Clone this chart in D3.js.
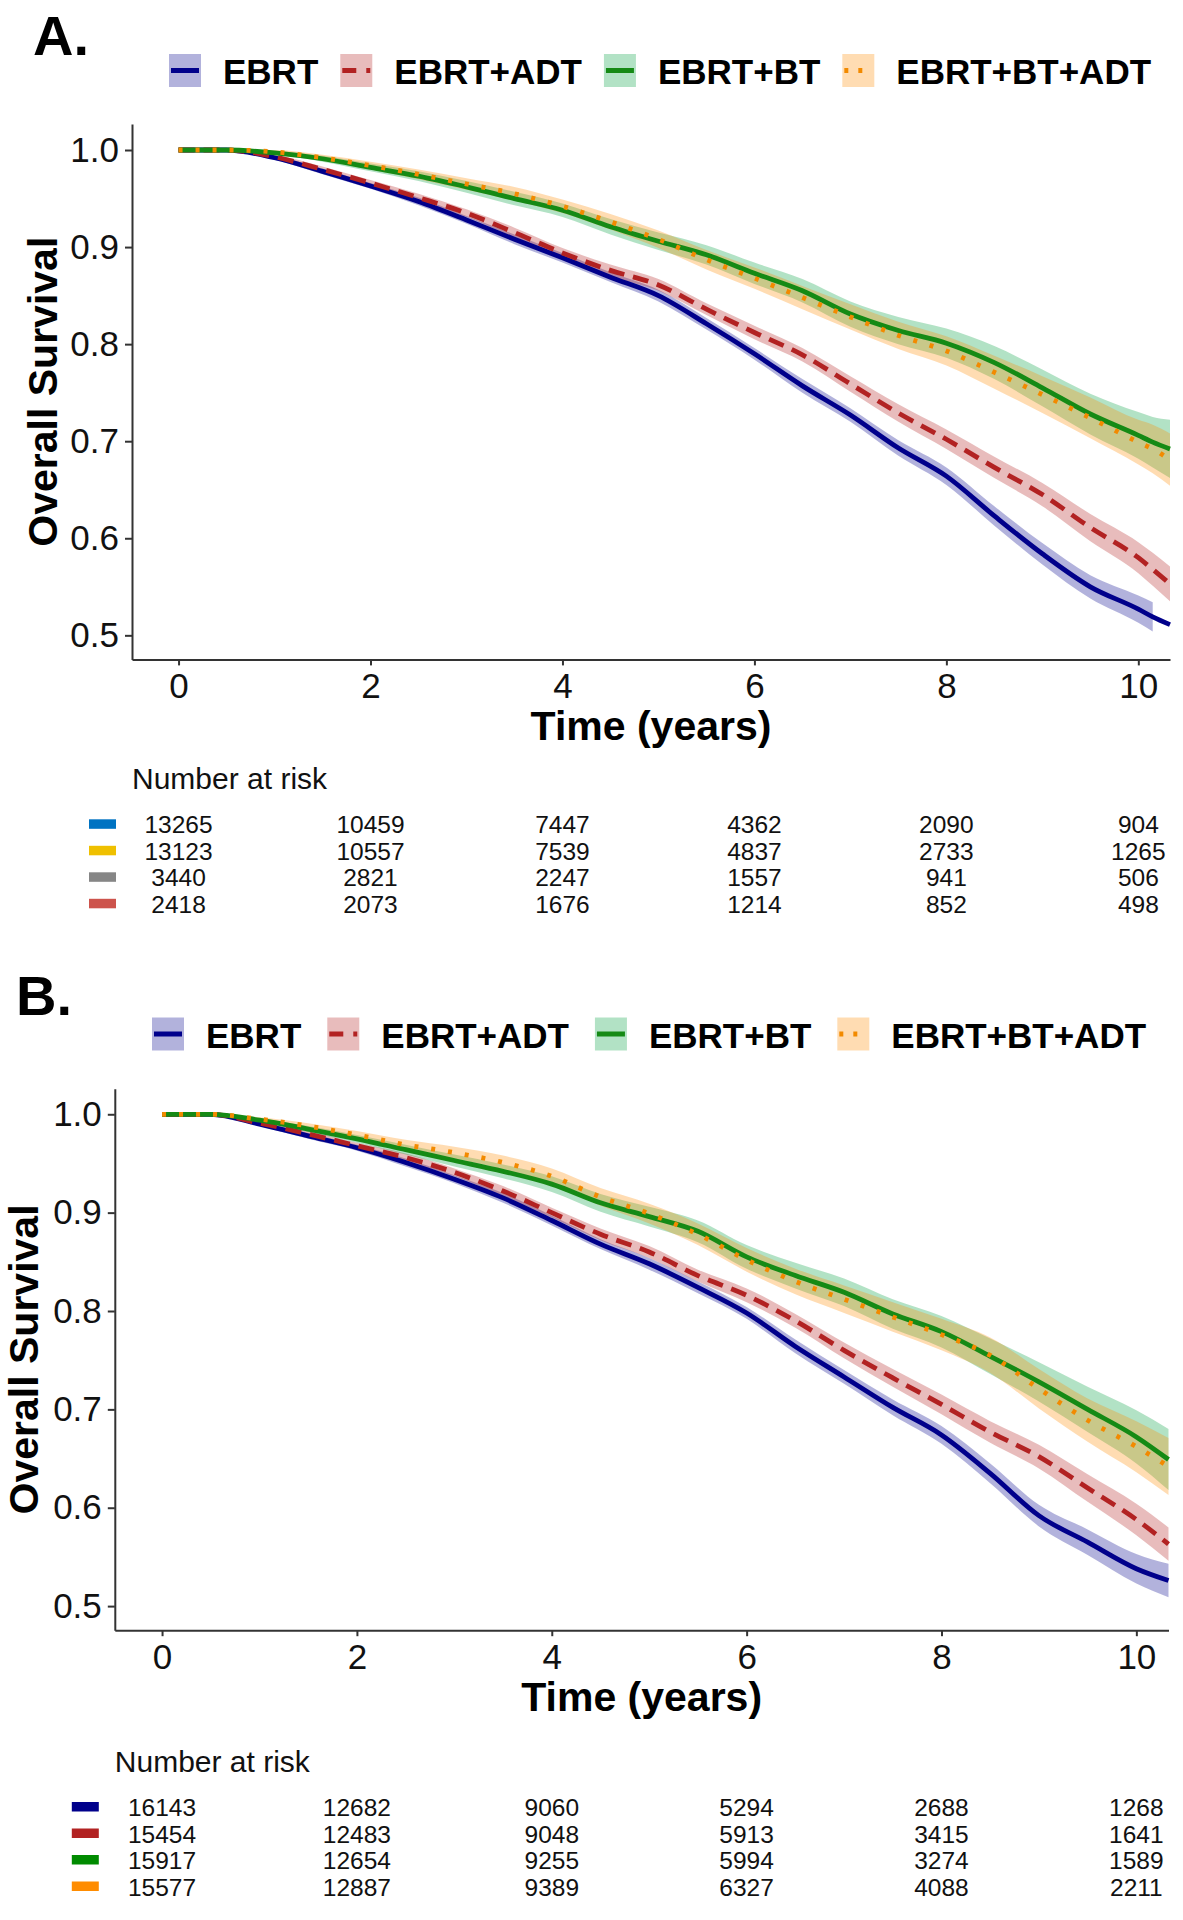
<!DOCTYPE html>
<html><head><meta charset="utf-8">
<script src="https://cdn.jsdelivr.net/npm/d3@7"></script>
<style>
body{margin:0;background:#fff}
svg{display:block}
text{font-family:"Liberation Sans",Arial,sans-serif}
</style>
</head><body>
<svg id="chart" width="1183" height="1920"></svg>
<script>
// ---------- data ----------
const groups = ["EBRT", "EBRT+ADT", "EBRT+BT", "EBRT+BT+ADT"];
const xTicks = [0, 2, 4, 6, 8, 10];
const yTicks = [0.5, 0.6, 0.7, 0.8, 0.9, 1.0];
const riskTimes = [0, 2, 4, 6, 8, 10];

// Panel A
const timesA = [0,0.5,1,1.5,2,2.5,3,3.5,4,4.5,5,5.5,6,6.5,7,7.5,8,8.5,9,9.5,10,10.15,10.33];
const survA_EBRT      = [1,1,0.992,0.978,0.963,0.947,0.928,0.908,0.889,0.869,0.850,0.821,0.790,0.757,0.727,0.693,0.664,0.623,0.584,0.550,0.527,0.519,0.511];
const survA_EBRT_ADT  = [1,1,0.993,0.980,0.966,0.951,0.935,0.915,0.894,0.876,0.861,0.836,0.812,0.789,0.759,0.729,0.702,0.673,0.645,0.611,0.580,0.568,0.553];
const survA_EBRT_BT   = [1,1,0.997,0.991,0.982,0.973,0.962,0.950,0.938,0.921,0.906,0.892,0.873,0.855,0.831,0.814,0.801,0.781,0.755,0.728,0.706,0.699,0.692];
const survA_EBRT_BT_ADT = [1,1,0.998,0.992,0.984,0.975,0.965,0.955,0.942,0.926,0.908,0.887,0.868,0.848,0.828,0.809,0.793,0.771,0.748,0.724,0.699,0.692,0.681];
const ciA_EBRT      = [0,0,0.002,0.003,0.003,0.004,0.004,0.005,0.005,0.005,0.006,0.006,0.006,0.007,0.007,0.008,0.009,0.010,0.011,0.012,0.014,0.015,null];
const ciA_EBRT_ADT  = [0,0,0.002,0.003,0.003,0.004,0.004,0.005,0.005,0.006,0.006,0.006,0.007,0.007,0.008,0.009,0.010,0.011,0.012,0.014,0.016,0.017,0.018];
const ciA_EBRT_BT   = [0,0,0.002,0.003,0.004,0.005,0.006,0.007,0.007,0.008,0.009,0.010,0.011,0.012,0.013,0.014,0.015,0.017,0.019,0.021,0.024,0.026,0.030];
const ciA_EBRT_BT_ADT = [0,0,0.002,0.003,0.004,0.005,0.006,0.007,0.007,0.008,0.009,0.010,0.011,0.012,0.013,0.014,0.015,0.017,0.019,0.021,0.023,0.025,0.027];
const riskA_EBRT      = [13265, 10459, 7447, 4362, 2090, 904];
const riskA_EBRT_ADT  = [13123, 10557, 7539, 4837, 2733, 1265];
const riskA_EBRT_BT   = [3440, 2821, 2247, 1557, 941, 506];
const riskA_EBRT_BT_ADT = [2418, 2073, 1676, 1214, 852, 498];

// Panel B
const timesB = [0,0.5,1,1.5,2,2.5,3,3.5,4,4.5,5,5.5,6,6.5,7,7.5,8,8.5,9,9.5,10,10.33];
const survB_EBRT      = [1,1,0.990,0.978,0.966,0.951,0.934,0.915,0.892,0.868,0.848,0.824,0.798,0.764,0.733,0.702,0.674,0.635,0.592,0.565,0.538,0.526];
const survB_EBRT_ADT  = [1,1,0.991,0.980,0.968,0.956,0.941,0.922,0.900,0.878,0.860,0.836,0.816,0.790,0.760,0.732,0.705,0.677,0.652,0.620,0.588,0.563];
const survB_EBRT_BT   = [1,1,0.994,0.985,0.975,0.964,0.953,0.942,0.929,0.910,0.896,0.881,0.855,0.836,0.819,0.797,0.779,0.754,0.728,0.700,0.672,0.649];
const survB_EBRT_BT_ADT = [1,1,0.995,0.988,0.979,0.969,0.961,0.951,0.937,0.916,0.899,0.878,0.852,0.830,0.812,0.794,0.776,0.755,0.721,0.689,0.662,0.642];
const ciB_EBRT      = [0,0,0.002,0.003,0.003,0.004,0.004,0.005,0.005,0.005,0.006,0.006,0.006,0.007,0.007,0.008,0.009,0.010,0.011,0.013,0.015,0.017];
const ciB_EBRT_ADT  = [0,0,0.002,0.003,0.003,0.004,0.004,0.005,0.005,0.006,0.006,0.006,0.007,0.007,0.008,0.009,0.010,0.011,0.012,0.014,0.016,0.017];
const ciB_EBRT_BT   = [0,0,0.002,0.003,0.004,0.005,0.006,0.007,0.008,0.009,0.010,0.011,0.012,0.013,0.014,0.015,0.016,0.018,0.020,0.023,0.027,0.031];
const ciB_EBRT_BT_ADT = [0,0,0.002,0.003,0.004,0.005,0.006,0.007,0.008,0.009,0.010,0.011,0.012,0.013,0.014,0.015,0.016,0.018,0.020,0.022,0.026,0.029];
const riskB_EBRT      = [16143, 12682, 9060, 5294, 2688, 1268];
const riskB_EBRT_ADT  = [15454, 12483, 9048, 5913, 3415, 1641];
const riskB_EBRT_BT   = [15917, 12654, 9255, 5994, 3274, 1589];
const riskB_EBRT_BT_ADT = [15577, 12887, 9389, 6327, 4088, 2211];

// ---------- styles ----------
const lineColors = ["#00008B", "#B22222", "#158A15", "#F28A00"];
const bandColors = ["#00008B", "#B22222", "#00A040", "#FF8C00"];
const dashes = [null, "16 9", null, "4 13"];
const riskKeyColorsA = ["#0073C2", "#EFC000", "#868686", "#CD534C"];
const riskKeyColorsB = ["#00008B", "#B22222", "#008B00", "#FF8C00"];

const svg = d3.select("#chart");

function drawPanel(cfg) {
  const g = svg.append("g");
  const x = d3.scaleLinear().domain([-0.485, 10.33]).range([cfg.left, cfg.right]);
  const y = d3.scaleLinear().domain(cfg.yDomain).range([cfg.bottom, cfg.top]);

  // panel letter
  g.append("text").attr("x", cfg.letterX).attr("y", cfg.letterY)
    .attr("font-size", 56).attr("font-weight", 700).attr("fill", "#000").text(cfg.letter);

  // legend
  let lx = cfg.legendX;
  groups.forEach((name, i) => {
    const lg = g.append("g");
    lg.append("rect").attr("x", lx).attr("y", cfg.legendY - 16.5).attr("width", 32).attr("height", 33)
      .attr("fill", bandColors[i]).attr("fill-opacity", 0.3);
    lg.append("line").attr("x1", lx + 2).attr("x2", lx + 30)
      .attr("y1", cfg.legendY).attr("y2", cfg.legendY)
      .attr("stroke", lineColors[i]).attr("stroke-width", 5)
      .attr("stroke-dasharray", i === 1 ? "14 10" : (i === 3 ? "4 10" : null));
    const t = lg.append("text").attr("x", lx + 54).attr("y", cfg.legendY + 13.5)
      .attr("font-size", 35).attr("font-weight", 700).attr("fill", "#000").text(name);
    lx += 54 + t.node().getComputedTextLength() + cfg.legendGap;
  });

  // bands
  cfg.series.forEach((s, i) => {
    const pts = cfg.times.map((t, k) => ({t, v: s.surv[k], h: s.ci[k]}));
    const area = d3.area()
      .defined(d => d.h !== null)
      .curve(d3.curveMonotoneX)
      .x(d => x(d.t))
      .y0(d => y(d.v - d.h))
      .y1(d => y(d.v + d.h));
    g.append("path").datum(pts).attr("d", area)
      .attr("fill", bandColors[i]).attr("fill-opacity", 0.3).attr("stroke", "none");
  });
  // lines
  cfg.series.forEach((s, i) => {
    const pts = cfg.times.map((t, k) => ({t, v: s.surv[k]}));
    const line = d3.line().curve(d3.curveMonotoneX).x(d => x(d.t)).y(d => y(d.v));
    g.append("path").datum(pts).attr("d", line)
      .attr("fill", "none").attr("stroke", lineColors[i]).attr("stroke-width", 4.8)
      .attr("stroke-linejoin", "round")
      .attr("stroke-dasharray", dashes[i]);
  });

  // axes
  const yAxis = g.append("g").attr("transform", `translate(${cfg.left},0)`)
    .call(d3.axisLeft(y).tickValues(yTicks).tickFormat(d3.format(".1f")).tickSize(7).tickSizeOuter(0).tickPadding(6));
  const xAxis = g.append("g").attr("transform", `translate(0,${cfg.bottom})`)
    .call(d3.axisBottom(x).tickValues(xTicks).tickFormat(d3.format("d")).tickSize(6).tickSizeOuter(0).tickPadding(7.5));
  [yAxis, xAxis].forEach(a => {
    a.select(".domain").attr("stroke", "#333").attr("stroke-width", 2);
    a.selectAll(".tick line").attr("stroke", "#333").attr("stroke-width", 2);
    a.selectAll(".tick text").attr("font-size", 35).attr("fill", "#111")
      .attr("font-family", "'Liberation Sans', Arial, sans-serif");
  });

  // axis titles
  g.append("text").attr("transform", `translate(${cfg.yTitleX},${(cfg.top + cfg.bottom) / 2}) rotate(-90)`)
    .attr("text-anchor", "middle").attr("font-size", 41).attr("font-weight", 700).attr("fill", "#000")
    .text("Overall Survival");
  g.append("text").attr("x", (cfg.left + cfg.right) / 2).attr("y", cfg.bottom + 80.6)
    .attr("text-anchor", "middle").attr("font-size", 41).attr("font-weight", 700).attr("fill", "#000")
    .text("Time (years)");

  // risk table
  g.append("text").attr("x", cfg.left).attr("y", cfg.riskTitleY)
    .attr("font-size", 30).attr("fill", "#111").text("Number at risk");
  cfg.risk.forEach((row, r) => {
    const by = cfg.riskTitleY + 44.3 + r * 26.5;
    g.append("rect").attr("x", cfg.left - 43).attr("y", by - 14).attr("width", 27).attr("height", 9.5)
      .attr("fill", cfg.riskColors[r]);
    g.selectAll(null).data(row).join("text")
      .attr("x", (d, k) => x(riskTimes[k])).attr("y", by)
      .attr("text-anchor", "middle").attr("font-size", 24.5).attr("fill", "#111")
      .text(d => d);
  });
}

drawPanel({
  letter: "A.", letterX: 33, letterY: 55,
  legendX: 169, legendY: 70.5, legendGap: 22,
  left: 132, right: 1170, top: 124, bottom: 659.4,
  yDomain: [0.4752, 1.0268],
  yTitleX: 57.4,
  times: timesA,
  series: [
    {surv: survA_EBRT, ci: ciA_EBRT},
    {surv: survA_EBRT_ADT, ci: ciA_EBRT_ADT},
    {surv: survA_EBRT_BT, ci: ciA_EBRT_BT},
    {surv: survA_EBRT_BT_ADT, ci: ciA_EBRT_BT_ADT}
  ],
  riskTitleY: 789,
  risk: [riskA_EBRT, riskA_EBRT_ADT, riskA_EBRT_BT, riskA_EBRT_BT_ADT],
  riskColors: riskKeyColorsA
});

drawPanel({
  letter: "B.", letterX: 16, letterY: 1015,
  legendX: 152, legendY: 1034, legendGap: 26,
  left: 114.8, right: 1168.5, top: 1088.7, bottom: 1630.2,
  yDomain: [0.4755, 1.026],
  yTitleX: 38.3,
  times: timesB,
  series: [
    {surv: survB_EBRT, ci: ciB_EBRT},
    {surv: survB_EBRT_ADT, ci: ciB_EBRT_ADT},
    {surv: survB_EBRT_BT, ci: ciB_EBRT_BT},
    {surv: survB_EBRT_BT_ADT, ci: ciB_EBRT_BT_ADT}
  ],
  riskTitleY: 1771.7,
  risk: [riskB_EBRT, riskB_EBRT_ADT, riskB_EBRT_BT, riskB_EBRT_BT_ADT],
  riskColors: riskKeyColorsB
});
</script>
</body></html>
